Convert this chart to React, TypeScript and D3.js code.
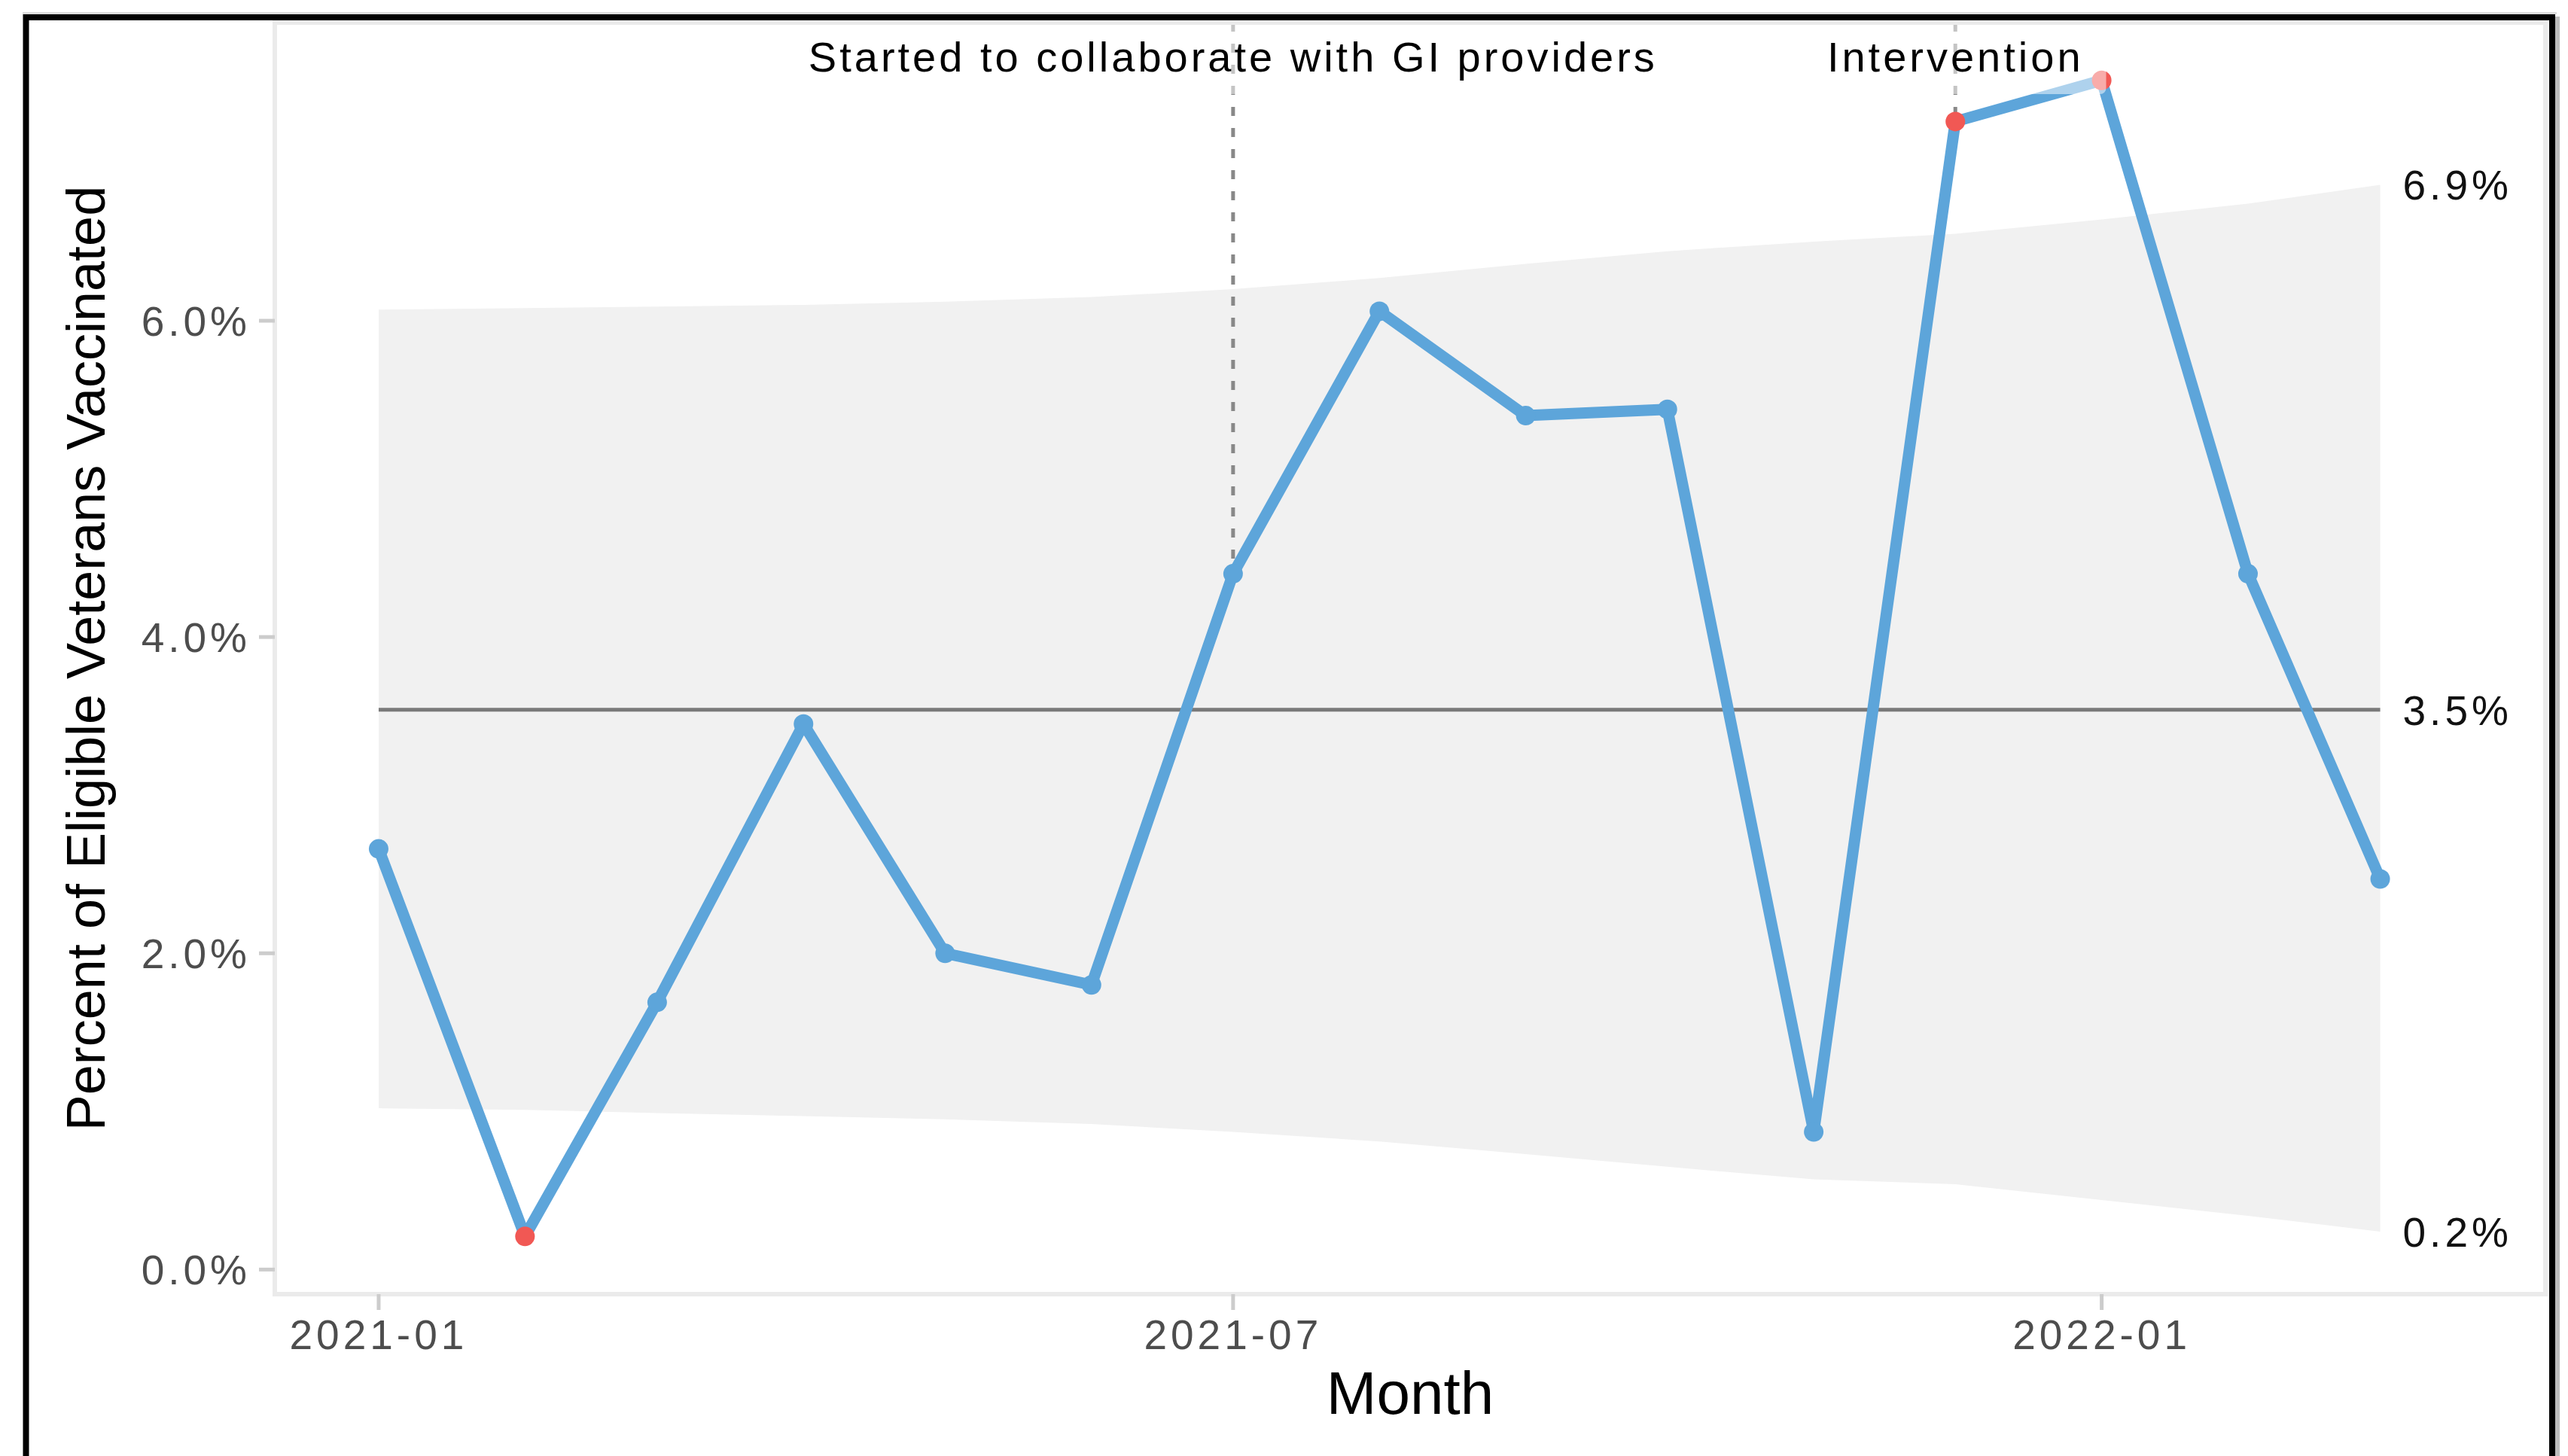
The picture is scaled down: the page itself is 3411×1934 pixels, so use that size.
import { useEffect, useRef } from 'react';
import * as d3 from 'd3';

// monthly share of eligible veterans vaccinated (%)
const MONTHS = [
  '2021-01-01', '2021-02-01', '2021-03-01', '2021-04-01', '2021-05-01',
  '2021-06-01', '2021-07-01', '2021-08-01', '2021-09-01', '2021-10-01',
  '2021-11-01', '2021-12-01', '2022-01-01', '2022-02-01', '2022-03-01',
];
const PCT_VACCINATED = [2.66, 0.21, 1.69, 3.45, 2.0, 1.8, 4.4, 6.06, 5.4, 5.44, 0.87, 7.26, 7.52, 4.4, 2.47];
const UPPER_LIMIT = [6.07, 6.08, 6.09, 6.1, 6.12, 6.15, 6.2, 6.27, 6.36, 6.44, 6.5, 6.55, 6.64, 6.74, 6.86];
const LOWER_LIMIT = [1.02, 1.01, 0.99, 0.97, 0.95, 0.92, 0.87, 0.81, 0.73, 0.65, 0.57, 0.54, 0.44, 0.34, 0.24];
const CENTER_LINE = 3.54;

const Y_TICKS = [0, 2, 4, 6];
const X_TICKS = ['2021-01-01', '2021-07-01', '2022-01-01'];
const X_DOMAIN = ['2020-12-10', '2022-04-05'];

const EVENT_DATES = ['2021-07-01', '2021-12-01'];
const EVENT_LABELS = ['Started to collaborate with GI providers', 'Intervention'];

const BLUE = '#5DA5DA';
const RED = '#F15854';
const FONT = "'Liberation Sans', Arial, Helvetica, sans-serif";

export default function App() {
  const svgRef = useRef<SVGSVGElement>(null);

  useEffect(() => {
    const node = svgRef.current;
    if (!node) return;
    const svg = d3.select(node);
    svg.selectAll('*').remove();

    const panel = { left: 365, right: 3381, top: 30, bottom: 1719 };
    const parse = d3.utcParse('%Y-%m-%d');
    const dates = MONTHS.map((m) => parse(m)!);

    const x = d3
      .scaleUtc()
      .domain(X_DOMAIN.map((d) => parse(d)!))
      .range([panel.left, panel.right]);

    // ggplot-style 5% expansion of the data range
    const lo = Math.min(d3.min(PCT_VACCINATED)!, d3.min(LOWER_LIMIT)!);
    const hi = Math.max(d3.max(PCT_VACCINATED)!, d3.max(UPPER_LIMIT)!);
    const pad = (hi - lo) * 0.05;
    const y = d3.scaleLinear().domain([lo - pad, hi + pad]).range([panel.bottom, panel.top]);

    const rows = dates.map((d, i) => ({
      date: d,
      value: PCT_VACCINATED[i],
      upper: UPPER_LIMIT[i],
      lower: LOWER_LIMIT[i],
    }));

    svg.append('rect').attr('width', 3411).attr('height', 1934).attr('fill', '#fff');

    // control limits band
    const band = d3
      .area<(typeof rows)[number]>()
      .x((d) => x(d.date))
      .y0((d) => y(d.lower))
      .y1((d) => y(d.upper));
    svg.append('path').datum(rows).attr('d', band).attr('fill', '#f1f1f1');

    // centre line
    svg
      .append('line')
      .attr('x1', x(dates[0]))
      .attr('x2', x(dates[dates.length - 1]))
      .attr('y1', y(CENTER_LINE))
      .attr('y2', y(CENTER_LINE))
      .attr('stroke', '#7a7a7a')
      .attr('stroke-width', 5);

    // event markers
    EVENT_DATES.forEach((ds) => {
      const d = parse(ds)!;
      const row = rows.find((r) => +r.date === +d)!;
      svg
        .append('line')
        .attr('x1', x(d))
        .attr('x2', x(d))
        .attr('y1', panel.top)
        .attr('y2', y(row.value))
        .attr('stroke', '#888888')
        .attr('stroke-width', 5)
        .attr('stroke-dasharray', '12,16');
    });

    // data line + points
    const line = d3
      .line<(typeof rows)[number]>()
      .x((d) => x(d.date))
      .y((d) => y(d.value));
    svg
      .append('path')
      .datum(rows)
      .attr('d', line)
      .attr('fill', 'none')
      .attr('stroke', BLUE)
      .attr('stroke-width', 15)
      .attr('stroke-linejoin', 'round')
      .attr('stroke-linecap', 'round');

    svg
      .selectAll('.pt')
      .data(rows)
      .join('circle')
      .attr('cx', (d) => x(d.date))
      .attr('cy', (d) => y(d.value))
      .attr('r', 13)
      .attr('fill', (d) => (d.value > d.upper || d.value < d.lower ? RED : BLUE));

    // event labels with half-transparent white boxes
    EVENT_DATES.forEach((ds, i) => {
      const cx = x(parse(ds)!);
      const g = svg.append('g');
      const box = g.append('rect');
      const t = g
        .append('text')
        .attr('x', cx)
        .attr('y', 95)
        .attr('text-anchor', 'middle')
        .attr('font-family', FONT)
        .attr('font-size', 56)
        .attr('letter-spacing', 4)
        .attr('fill', '#000')
        .text(EVENT_LABELS[i]);
      const bb = (t.node() as SVGTextElement).getBBox();
      box
        .attr('x', bb.x - 30)
        .attr('y', 32)
        .attr('width', bb.width + 60)
        .attr('height', 93)
        .attr('rx', 8)
        .attr('fill', '#fff')
        .attr('fill-opacity', 0.5);
    });

    // limit labels at the right end
    const last = rows[rows.length - 1];
    const fmt = (v: number) => `${d3.format('.1f')(v)}%`;
    [last.upper, CENTER_LINE, last.lower].forEach((v) => {
      svg
        .append('text')
        .attr('x', x(last.date) + 30)
        .attr('y', y(v))
        .attr('dy', '0.36em')
        .attr('font-family', FONT)
        .attr('font-size', 55)
        .attr('letter-spacing', 5)
        .attr('fill', '#111')
        .text(fmt(v));
    });

    // panel border
    svg
      .append('rect')
      .attr('x', panel.left)
      .attr('y', panel.top)
      .attr('width', panel.right - panel.left)
      .attr('height', panel.bottom - panel.top)
      .attr('fill', 'none')
      .attr('stroke', '#ebebeb')
      .attr('stroke-width', 6);

    // y axis
    Y_TICKS.forEach((v) => {
      svg
        .append('line')
        .attr('x1', panel.left - 21)
        .attr('x2', panel.left)
        .attr('y1', y(v))
        .attr('y2', y(v))
        .attr('stroke', '#cccccc')
        .attr('stroke-width', 5);
      svg
        .append('text')
        .attr('x', panel.left - 32)
        .attr('y', y(v))
        .attr('dy', '0.36em')
        .attr('text-anchor', 'end')
        .attr('font-family', FONT)
        .attr('font-size', 55)
        .attr('letter-spacing', 5)
        .attr('fill', '#4d4d4d')
        .text(fmt(v));
    });

    // x axis
    X_TICKS.forEach((ds) => {
      const d = parse(ds)!;
      svg
        .append('line')
        .attr('x1', x(d))
        .attr('x2', x(d))
        .attr('y1', panel.bottom)
        .attr('y2', panel.bottom + 21)
        .attr('stroke', '#cccccc')
        .attr('stroke-width', 5);
      svg
        .append('text')
        .attr('x', x(d))
        .attr('y', 1792)
        .attr('text-anchor', 'middle')
        .attr('font-family', FONT)
        .attr('font-size', 55)
        .attr('letter-spacing', 5)
        .attr('fill', '#4d4d4d')
        .text(d3.utcFormat('%Y-%m')(d));
    });

    // axis titles
    svg
      .append('text')
      .attr('x', (panel.left + panel.right) / 2)
      .attr('y', 1878)
      .attr('text-anchor', 'middle')
      .attr('font-family', FONT)
      .attr('font-size', 80)
      .attr('fill', '#000')
      .text('Month');

    svg
      .append('text')
      .attr('transform', `translate(139,${(panel.top + panel.bottom) / 2}) rotate(-90)`)
      .attr('text-anchor', 'middle')
      .attr('font-family', FONT)
      .attr('font-size', 72)
      .attr('fill', '#000')
      .text('Percent of Eligible Veterans Vaccinated');

    // outer frame with a faint shadow
    svg
      .append('line')
      .attr('x1', 30)
      .attr('x2', 3396)
      .attr('y1', 17.5)
      .attr('y2', 17.5)
      .attr('stroke', '#dddddd')
      .attr('stroke-width', 3);
    svg
      .append('line')
      .attr('x1', 3397)
      .attr('x2', 3397)
      .attr('y1', 22)
      .attr('y2', 1934)
      .attr('stroke', '#bdbdbd')
      .attr('stroke-width', 6);
    svg
      .append('rect')
      .attr('x', 34.5)
      .attr('y', 23)
      .attr('width', 3390 - 34.5)
      .attr('height', 1960)
      .attr('fill', 'none')
      .attr('stroke', '#000')
      .attr('stroke-width', 8);
  }, []);

  return (
    <svg
      ref={svgRef}
      width={3411}
      height={1934}
      style={{ position: 'absolute', left: 0, top: 0, display: 'block' }}
    />
  );
}
